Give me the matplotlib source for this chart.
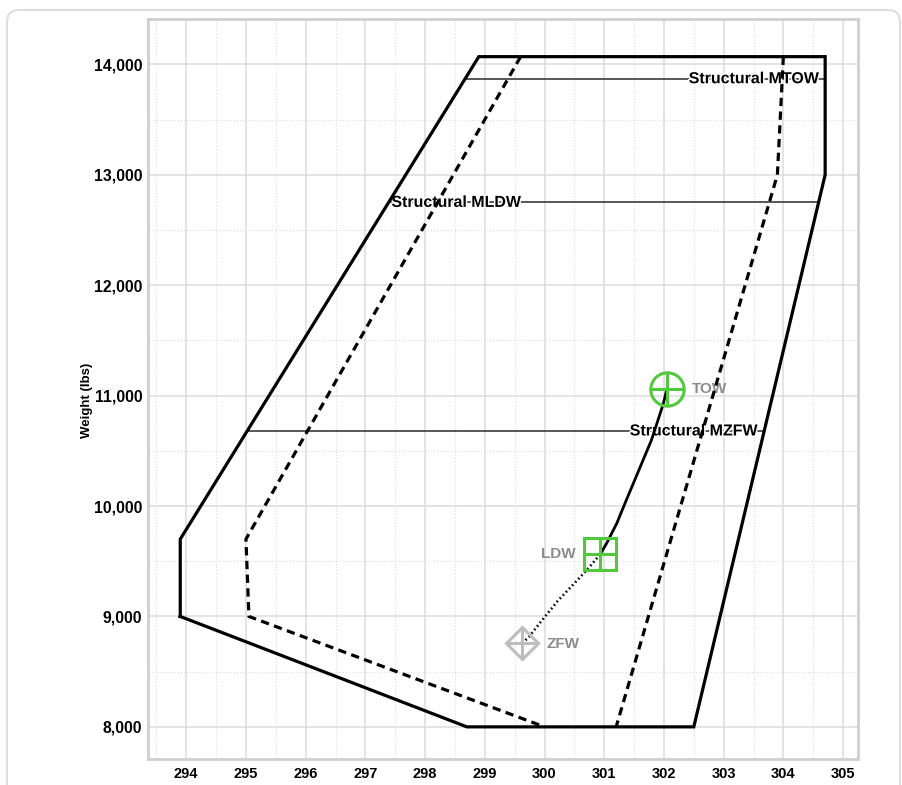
import numpy as np
import matplotlib
matplotlib.use("Agg")
import matplotlib.pyplot as plt
import matplotlib.patheffects as pe
from matplotlib.patches import FancyBboxPatch
from matplotlib.ticker import MultipleLocator, FuncFormatter

plt.rcParams['font.family'] = ['Liberation Sans', 'DejaVu Sans']
plt.rcParams['font.weight'] = 'bold'

# envelope (arm in inches, weight in lbs)
env_x = [293.9, 293.9, 298.9, 304.7, 304.7, 302.5, 298.7, 293.9]
env_y = [9000, 9700, 14070, 14070, 13000, 8000, 8000, 9000]

# inner dashed limits
dash_left_x = [299.6, 295.0, 295.05, 300.0]
dash_left_y = [14070, 9700, 9000, 8000]
dash_right_x = [304.0, 303.9, 301.2]
dash_right_y = [14070, 13000, 8000]

# structural limits
limit_names = ["Structural MTOW", "Structural MLDW", "Structural MZFW"]
limit_weights = [13870, 12750, 10680]
limit_side = ["right", "left", "right"]

# loading points
tow = (302.05, 11060)
ldw = (300.93, 9562)
zfw = (299.63, 8760)

# fuel burn TOW -> LDW (solid), LDW -> ZFW (dotted)
burn_x = [302.05, 301.99, 301.90, 301.79, 301.65, 301.51, 301.37, 301.21, 301.04, 300.93]
burn_y = [11060, 10928, 10777, 10596, 10415, 10234, 10054, 9843, 9662, 9562]
rest_x = [300.93, 300.74, 300.50, 300.22, 299.95, 299.74, 299.63]
rest_y = [9562, 9440, 9300, 9140, 8960, 8815, 8760]

green = "#52c83c"
grey_mark = "#bdbdbd"
grey_text = "#8c8c8c"

fig = plt.figure(figsize=(9.02, 7.85), dpi=100)

# card behind the chart (pixel coords, origin bottom-left)
card = FancyBboxPatch((7, -30), 893, 805, boxstyle="round,pad=0,rounding_size=12",
                      transform=None, facecolor="white", edgecolor="#dedede", lw=1.5,
                      zorder=-10)
fig.patches.append(card)

ax = fig.add_axes([148 / 902, 1 - 759 / 785, 710 / 902, 740 / 785])
ax.set_xlim(293.36, 305.25)
ax.set_ylim(7709, 14411)

ax.xaxis.set_major_locator(MultipleLocator(1))
ax.xaxis.set_minor_locator(MultipleLocator(0.5))
ax.yaxis.set_major_locator(MultipleLocator(1000))
ax.yaxis.set_minor_locator(MultipleLocator(500))
ax.yaxis.set_major_formatter(FuncFormatter(lambda v, p: f"{int(v):,}"))
ax.grid(which="major", color="#dcdcdc", lw=1.1)
ax.grid(which="minor", color="#dcdcdc", lw=0.8, ls=":")
ax.set_axisbelow(True)
ax.tick_params(which="both", length=0)
ax.tick_params(axis="x", pad=6, labelsize=10.5)
ax.tick_params(axis="y", pad=4, labelsize=11.3)
for s in ax.spines.values():
    s.set_color("#cfcfcf")
    s.set_linewidth(2)

ax.set_ylabel("Weight (lbs)", fontsize=9.5, fontweight="bold")
ax.yaxis.set_label_coords(-0.077, 0.485)

label_fx = [pe.withStroke(linewidth=2.2, foreground="white")]

# structural limit lines, from left edge to right edge of envelope
for name, w, side in zip(limit_names, limit_weights, limit_side):
    xl = np.interp(w, [9000, 9700, 14070], [293.9, 293.9, 298.9])
    xr = np.interp(w, [8000, 13000, 14070], [302.5, 304.7, 304.7])
    ax.plot([xl, xr], [w, w], color="#2a2a2a", lw=1.1, zorder=2)
    if side == "right":
        ax.annotate(name, (xr, w), xytext=(-4, 0), textcoords="offset points",
                    ha="right", va="center", fontsize=11.5, fontweight="bold", zorder=3,
                    path_effects=label_fx)
    else:
        ax.annotate(name, (xl, w), xytext=(2, 0), textcoords="offset points",
                    ha="left", va="center", fontsize=11.5, fontweight="bold", zorder=3,
                    path_effects=label_fx)

dash = (0, (2.6, 1.7))
ax.plot(env_x, env_y, color="black", lw=2.3, zorder=4, solid_joinstyle="miter")
ax.plot(dash_left_x, dash_left_y, color="black", lw=2.3, ls=dash, zorder=4)
ax.plot(dash_right_x, dash_right_y, color="black", lw=2.3, ls=dash, zorder=4)

ax.plot(burn_x, burn_y, color="black", lw=2.0, zorder=5)
ax.plot(rest_x, rest_y, color="black", lw=1.9, ls=(0, (0.6, 1.1)), zorder=5)

# TOW: circle with cross
ax.plot(*tow, marker="o", ms=24, mfc="none", mec=green, mew=2.2, zorder=6)
ax.plot(*tow, marker="+", ms=24, mec=green, mew=2.2, zorder=6)
# LDW: square with cross
ax.plot(*ldw, marker="s", ms=23.5, mfc="none", mec=green, mew=2.2, zorder=6)
ax.plot(*ldw, marker="+", ms=23.5, mec=green, mew=2.2, zorder=6)
# ZFW: diamond with cross
ax.plot(*zfw, marker="D", ms=16.5, mfc="none", mec=grey_mark, mew=2.2, zorder=6)
ax.plot(*zfw, marker="+", ms=23.5, mec=grey_mark, mew=2.2, zorder=6)

ax.annotate("TOW", tow, xytext=(18, 0), textcoords="offset points", ha="left",
            va="center", color=grey_text, fontsize=11, fontweight="bold")
ax.annotate("LDW", ldw, xytext=(-17.5, 0), textcoords="offset points", ha="right",
            va="center", color=grey_text, fontsize=11, fontweight="bold")
ax.annotate("ZFW", zfw, xytext=(17, -1), textcoords="offset points", ha="left",
            va="center", color=grey_text, fontsize=11, fontweight="bold")

fig.savefig("out.png", dpi=100, facecolor="white")
